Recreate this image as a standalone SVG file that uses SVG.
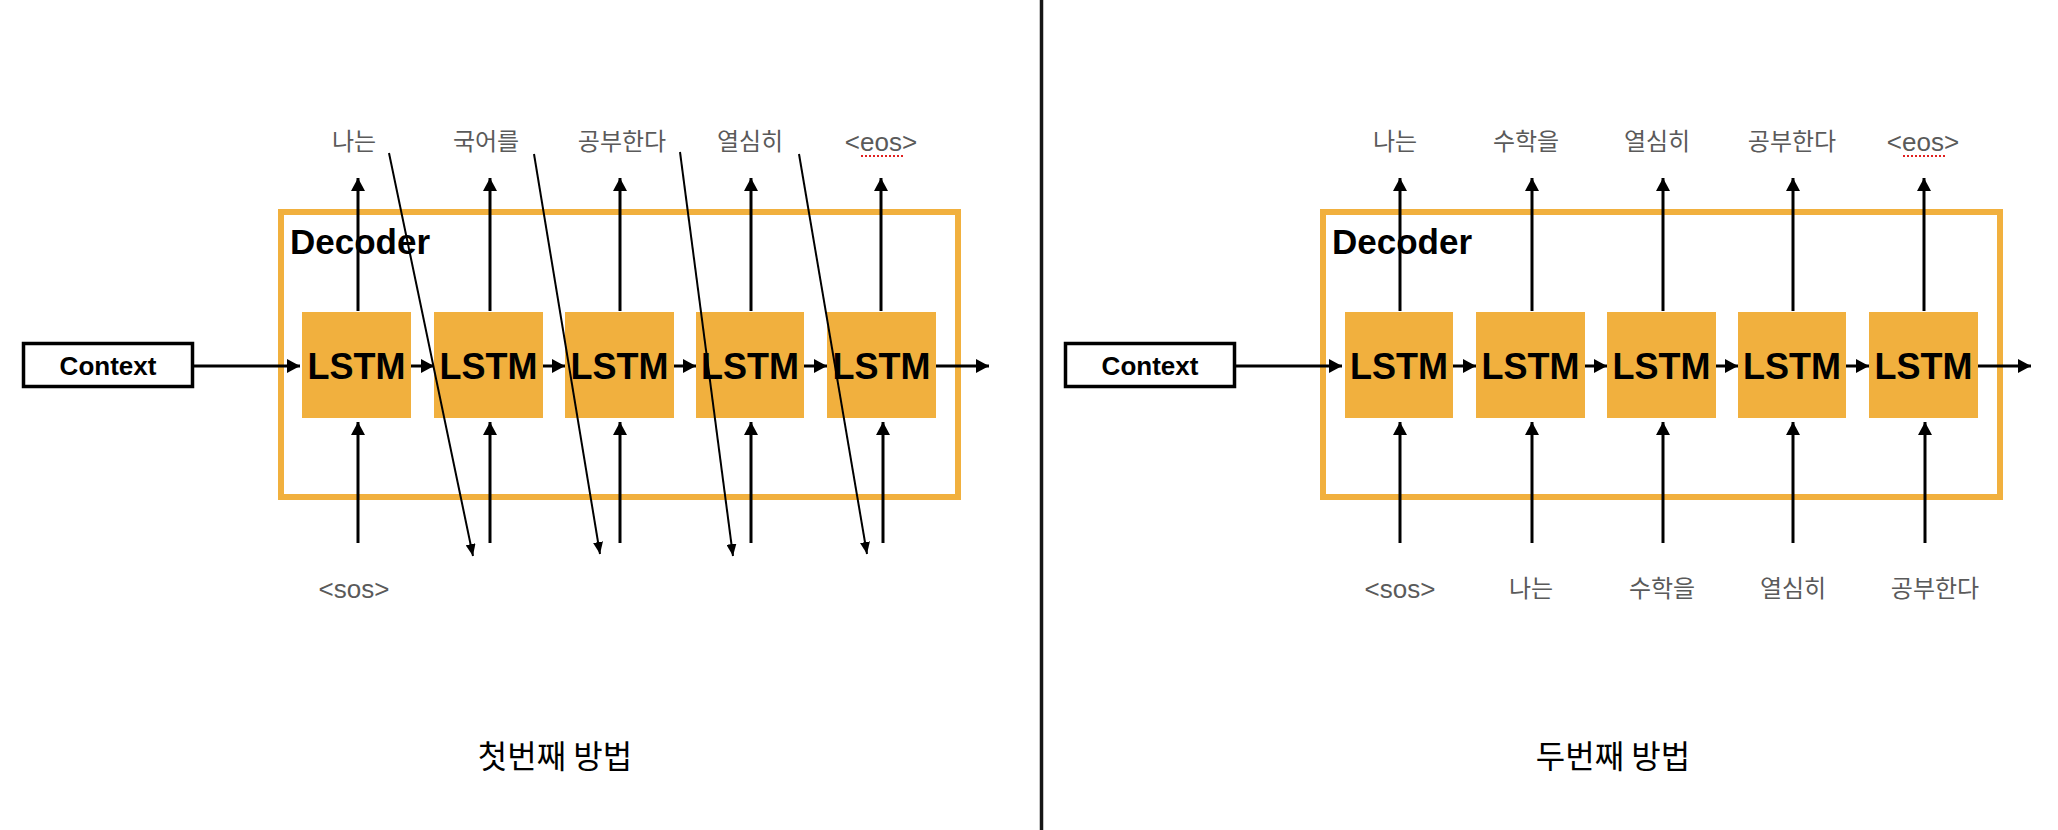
<svg xmlns="http://www.w3.org/2000/svg" width="2058" height="830" viewBox="0 0 2058 830">
<style>
.bg{fill:#ffffff}
.ctx{fill:#ffffff;stroke:#000;stroke-width:3.5}
.dec{fill:none;stroke:#F1B03E;stroke-width:6}
.cell{fill:#F1B03E}
.lstm{font-family:"Liberation Sans",Arial,sans-serif;font-weight:bold;font-size:36px;fill:#000;text-anchor:middle}
.ctxt{font-family:"Liberation Sans",Arial,sans-serif;font-weight:bold;font-size:26px;fill:#000;text-anchor:middle}
.dtxt{font-family:"Liberation Sans",Arial,sans-serif;font-weight:bold;font-size:35px;fill:#000}
.lbl{font-family:"Liberation Sans","Noto Sans CJK KR",sans-serif;font-size:24px;fill:#5a5a5a;text-anchor:middle}
.tag{font-size:26px}
.title{font-family:"Noto Sans CJK KR",sans-serif;font-size:32px;fill:#000;text-anchor:middle}
.arr{stroke:#000;stroke-width:3;fill:none;marker-end:url(#ah)}
.diag{stroke:#000;stroke-width:2;fill:none;marker-end:url(#ahs)}
.spell{stroke:#e02020;stroke-width:2;stroke-dasharray:2,2}
.divider{stroke:#161616;stroke-width:3.5}
</style>
<defs>
<marker id="ah" markerUnits="userSpaceOnUse" markerWidth="14" markerHeight="14" refX="13" refY="7" orient="auto">
<path d="M0,0 L13,7 L0,14 z" fill="#000"/>
</marker>
<marker id="ahs" markerUnits="userSpaceOnUse" markerWidth="12" markerHeight="10" refX="12" refY="5" orient="auto">
<path d="M0,0 L12,5 L0,10 z" fill="#000"/>
</marker>
</defs>
<rect class="bg" x="0" y="0" width="2058" height="830"/>
<line class="divider" x1="1041.5" y1="0" x2="1041.5" y2="830"/>

<!-- LEFT PANEL -->
<g id="left-context"><rect class="ctx" x="23.5" y="343.5" width="169" height="43"/><text class="ctxt" x="108" y="375">Context</text></g>
<g id="left-decoder"><rect class="dec" x="281" y="212" width="677" height="285"/><text class="dtxt" x="290" y="254">Decoder</text></g>
<g id="left-lstm1"><rect class="cell" x="302" y="312" width="109" height="106"/><text class="lstm" x="356.5" y="379">LSTM</text></g>
<g id="left-lstm2"><rect class="cell" x="434" y="312" width="109" height="106"/><text class="lstm" x="488.5" y="379">LSTM</text></g>
<g id="left-lstm3"><rect class="cell" x="565" y="312" width="109" height="106"/><text class="lstm" x="619.5" y="379">LSTM</text></g>
<g id="left-lstm4"><rect class="cell" x="696" y="312" width="108" height="106"/><text class="lstm" x="750" y="379">LSTM</text></g>
<g id="left-lstm5"><rect class="cell" x="827" y="312" width="109" height="106"/><text class="lstm" x="881.5" y="379">LSTM</text></g>
<g id="left-out-labels">
<text class="lbl" x="354" y="150">나는</text>
<text class="lbl" x="486" y="150">국어를</text>
<text class="lbl" x="622" y="150">공부한다</text>
<text class="lbl" x="750" y="150">열심히</text>
<text class="lbl tag" x="881" y="151">&lt;eos&gt;</text>
<line class="spell" x1="861" y1="156" x2="904" y2="156"/>
</g>
<g id="left-in-labels"><text class="lbl tag" x="354" y="598">&lt;sos&gt;</text></g>
<g id="left-title"><text class="title" x="555" y="768">첫번째 방법</text></g>

<!-- RIGHT PANEL -->
<g id="right-context"><rect class="ctx" x="1065.5" y="343.5" width="169" height="43"/><text class="ctxt" x="1150" y="375">Context</text></g>
<g id="right-decoder"><rect class="dec" x="1323" y="212" width="677" height="285"/><text class="dtxt" x="1332" y="254">Decoder</text></g>
<g id="right-lstm1"><rect class="cell" x="1345" y="312" width="108" height="106"/><text class="lstm" x="1399" y="379">LSTM</text></g>
<g id="right-lstm2"><rect class="cell" x="1476" y="312" width="109" height="106"/><text class="lstm" x="1530.5" y="379">LSTM</text></g>
<g id="right-lstm3"><rect class="cell" x="1607" y="312" width="109" height="106"/><text class="lstm" x="1661.5" y="379">LSTM</text></g>
<g id="right-lstm4"><rect class="cell" x="1738" y="312" width="108" height="106"/><text class="lstm" x="1792" y="379">LSTM</text></g>
<g id="right-lstm5"><rect class="cell" x="1869" y="312" width="109" height="106"/><text class="lstm" x="1923.5" y="379">LSTM</text></g>
<g id="right-out-labels">
<text class="lbl" x="1395" y="150">나는</text>
<text class="lbl" x="1526" y="150">수학을</text>
<text class="lbl" x="1657" y="150">열심히</text>
<text class="lbl" x="1792" y="150">공부한다</text>
<text class="lbl tag" x="1923" y="151">&lt;eos&gt;</text>
<line class="spell" x1="1903" y1="156" x2="1946" y2="156"/>
</g>
<g id="right-in-labels">
<text class="lbl tag" x="1400" y="598">&lt;sos&gt;</text>
<text class="lbl" x="1531" y="597">나는</text>
<text class="lbl" x="1662" y="597">수학을</text>
<text class="lbl" x="1793" y="597">열심히</text>
<text class="lbl" x="1935" y="597">공부한다</text>
</g>
<g id="right-title"><text class="title" x="1613" y="768">두번째 방법</text></g>

<g id="connectors">
<!-- left -->
<line class="arr" x1="194" y1="366" x2="300" y2="366"/>
<line class="arr" x1="411" y1="366" x2="434" y2="366"/>
<line class="arr" x1="543" y1="366" x2="565" y2="366"/>
<line class="arr" x1="674" y1="366" x2="696" y2="366"/>
<line class="arr" x1="804" y1="366" x2="827" y2="366"/>
<line class="arr" x1="936" y1="366" x2="989" y2="366"/>
<line class="arr" x1="358" y1="311" x2="358" y2="178"/>
<line class="arr" x1="490" y1="311" x2="490" y2="178"/>
<line class="arr" x1="620" y1="311" x2="620" y2="178"/>
<line class="arr" x1="751" y1="311" x2="751" y2="178"/>
<line class="arr" x1="881" y1="311" x2="881" y2="178"/>
<line class="arr" x1="358" y1="543" x2="358" y2="422"/>
<line class="arr" x1="490" y1="543" x2="490" y2="422"/>
<line class="arr" x1="620" y1="543" x2="620" y2="422"/>
<line class="arr" x1="751" y1="543" x2="751" y2="422"/>
<line class="arr" x1="883" y1="543" x2="883" y2="422"/>
<line class="diag" x1="389" y1="153" x2="473" y2="556"/>
<line class="diag" x1="534" y1="154" x2="600" y2="554"/>
<line class="diag" x1="680" y1="152" x2="733" y2="556"/>
<line class="diag" x1="799" y1="154" x2="867" y2="554"/>
<!-- right -->
<line class="arr" x1="1236" y1="366" x2="1342" y2="366"/>
<line class="arr" x1="1453" y1="366" x2="1476" y2="366"/>
<line class="arr" x1="1585" y1="366" x2="1607" y2="366"/>
<line class="arr" x1="1716" y1="366" x2="1738" y2="366"/>
<line class="arr" x1="1846" y1="366" x2="1869" y2="366"/>
<line class="arr" x1="1978" y1="366" x2="2031" y2="366"/>
<line class="arr" x1="1400" y1="311" x2="1400" y2="178"/>
<line class="arr" x1="1532" y1="311" x2="1532" y2="178"/>
<line class="arr" x1="1663" y1="311" x2="1663" y2="178"/>
<line class="arr" x1="1793" y1="311" x2="1793" y2="178"/>
<line class="arr" x1="1924" y1="311" x2="1924" y2="178"/>
<line class="arr" x1="1400" y1="543" x2="1400" y2="422"/>
<line class="arr" x1="1532" y1="543" x2="1532" y2="422"/>
<line class="arr" x1="1663" y1="543" x2="1663" y2="422"/>
<line class="arr" x1="1793" y1="543" x2="1793" y2="422"/>
<line class="arr" x1="1925" y1="543" x2="1925" y2="422"/>
</g>
</svg>
